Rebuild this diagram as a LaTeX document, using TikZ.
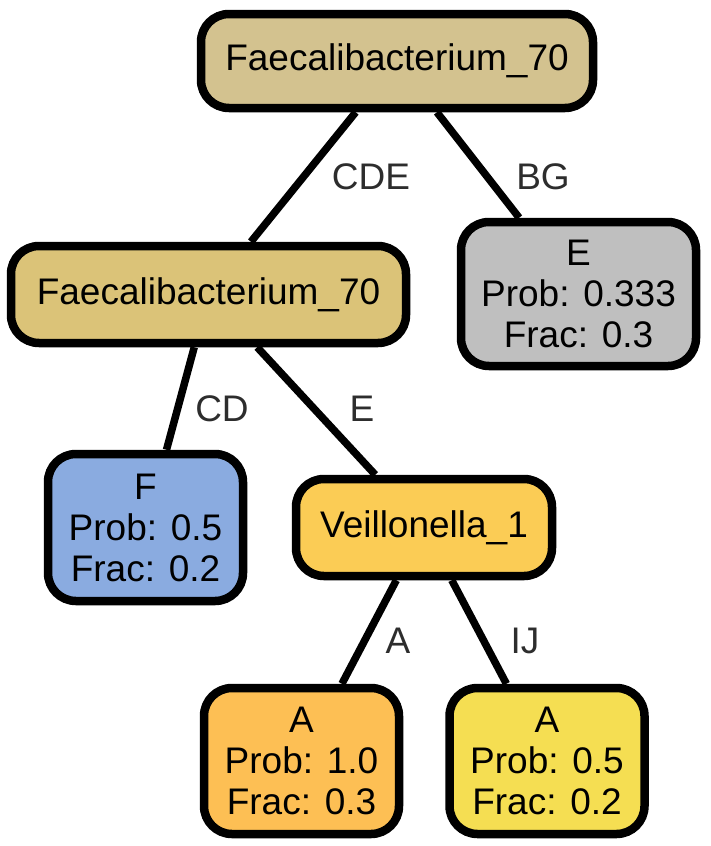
\documentclass[tikz,border=0pt]{standalone}
\usepackage{fontspec}
\setmainfont{Liberation Sans}
\definecolor{rootfill}{RGB}{211,194,143}
\definecolor{innerfill}{RGB}{219,195,120}
\definecolor{veilfill}{RGB}{251,204,85}
\definecolor{greyfill}{RGB}{191,191,191}
\definecolor{bluefill}{RGB}{138,171,224}
\definecolor{orangefill}{RGB}{253,191,84}
\definecolor{yellowfill}{RGB}{245,222,82}
\definecolor{labelgrey}{RGB}{45,45,45}
\tikzset{
  treebox/.style={draw=black, line width=8.5pt, rounded corners=28pt, align=center,
    inner sep=0pt, font=\fontsize{37}{41}\selectfont},
  treeedge/.style={line width=7.5pt},
  edgelabel/.style={text=labelgrey, font=\fontsize{37}{41}\selectfont}
}
\begin{document}
\begin{tikzpicture}[x=1pt,y=-1pt]
        \useasboundingbox (0,0) rectangle (710,846);
        % split nodes
        \node[treebox, fill=rootfill, minimum width=392pt, minimum height=94pt] (root) at (397,61) {Faecalibacterium\_70};
        \node[treebox, fill=innerfill, minimum width=395pt, minimum height=97pt] (inner) at (208.5,294.5) {Faecalibacterium\_70};
        \node[treebox, fill=veilfill, minimum width=256pt, minimum height=97pt] (veil) at (424,527.5) {Veillonella\_1};
        % leaves
        \node[treebox, fill=greyfill, minimum width=235pt, minimum height=144pt] (leafE) at (578.5,294) {E\\Prob: 0.333\\Frac: 0.3};
        \node[treebox, fill=bluefill, minimum width=195pt, minimum height=147pt] (leafF) at (145.5,527.5) {F\\Prob: 0.5\\Frac: 0.2};
        \node[treebox, fill=orangefill, minimum width=195pt, minimum height=146pt] (leafA) at (301.5,761) {A\\Prob: 1.0\\Frac: 0.3};
        \node[treebox, fill=yellowfill, minimum width=195pt, minimum height=146pt] (leafAA) at (547,761) {A\\Prob: 0.5\\Frac: 0.2};
        % edges
        \draw[treeedge] (root) -- (inner);
        \draw[treeedge] (root) -- (leafE);
        \draw[treeedge] (inner) -- (leafF);
        \draw[treeedge] (inner) -- (veil);
        \draw[treeedge] (veil) -- (leafA);
        \draw[treeedge] (veil) -- (leafAA);
        % edge labels
        \node[edgelabel] (labCDE) at (371,177) {CDE};
        \node[edgelabel] (labBG) at (543,177) {BG};
        \node[edgelabel] (labCD) at (222,409) {CD};
        \node[edgelabel] (labE) at (362,409) {E};
        \node[edgelabel] (labA) at (398,641) {A};
        \node[edgelabel] (labIJ) at (525,641) {IJ};
      \end{tikzpicture}
\end{document}
